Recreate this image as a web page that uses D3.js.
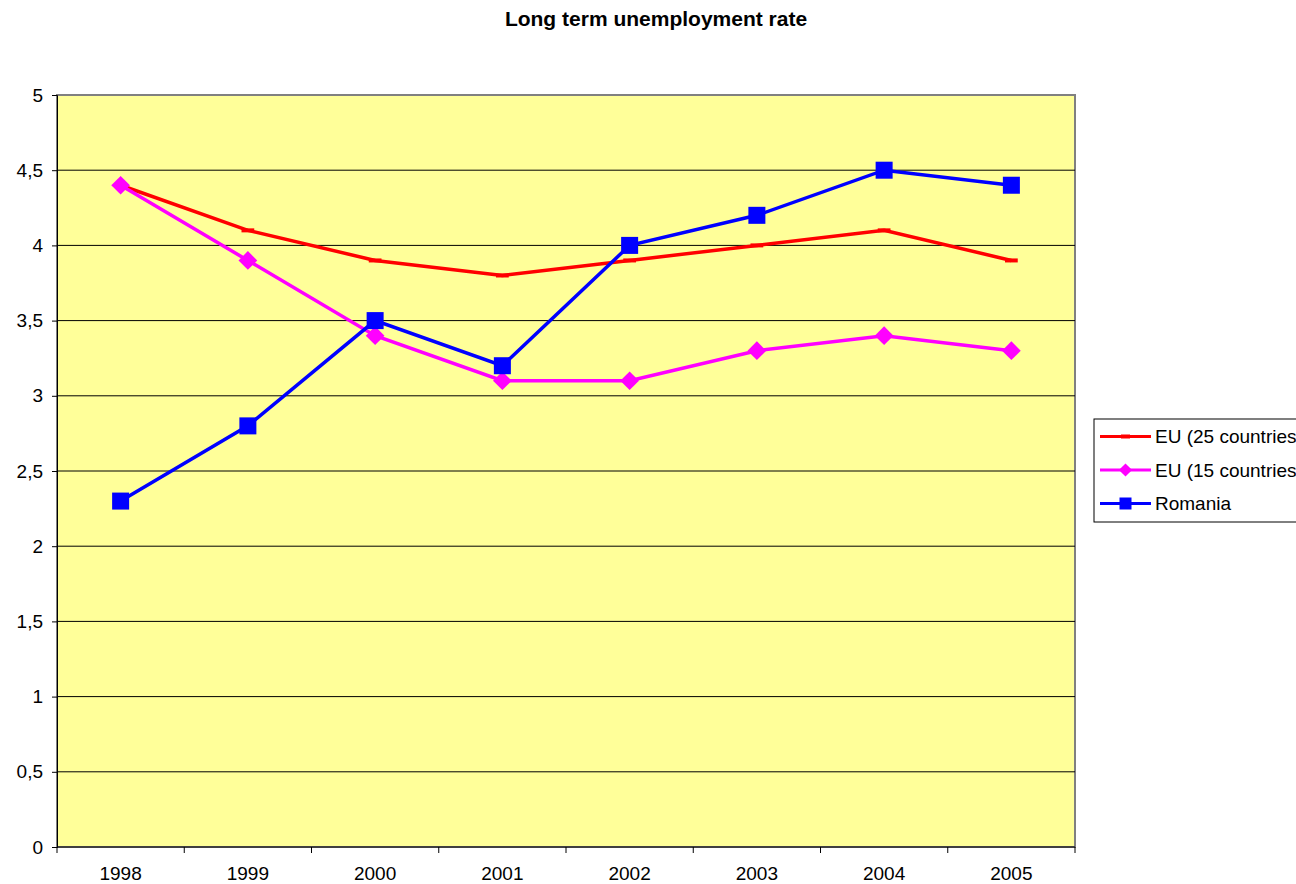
<!doctype html>
<html lang="en">
<head>
<meta charset="utf-8">
<script src="https://cdn.jsdelivr.net/npm/d3@7"></script>
<style>
body { margin: 0; background: #fff; }
svg text { font-family: Arial, "Liberation Sans", sans-serif; }
</style>
</head>
<body>
<svg width="1296" height="884"></svg>
<script>
// data
var years = ["1998", "1999", "2000", "2001", "2002", "2003", "2004", "2005"];
var eu25 = [4.4, 4.1, 3.9, 3.8, 3.9, 4.0, 4.1, 3.9];
var eu15 = [4.4, 3.9, 3.4, 3.1, 3.1, 3.3, 3.4, 3.3];
var romania = [2.3, 2.8, 3.5, 3.2, 4.0, 4.2, 4.5, 4.4];
var yTicks = [0, 0.5, 1, 1.5, 2, 2.5, 3, 3.5, 4, 4.5, 5];

var series = [
    { name: "EU (25 countries)", values: eu25, color: "#ff0000", marker: "dash" },
    { name: "EU (15 countries)", values: eu15, color: "#ff00ff", marker: "diamond" },
    { name: "Romania", values: romania, color: "#0000ff", marker: "square" }
];

var svg = d3.select("svg");
var plotL = 57, plotR = 1075, plotT = 95, plotB = 847;

var x = d3.scaleBand().domain(years).range([plotL, plotR]);
var y = d3.scaleLinear().domain([0, 5]).range([plotB, plotT]);
var fmt = function(d) { return String(d).replace(".", ","); };

svg.append("text")
    .attr("x", 656).attr("y", 26)
    .attr("text-anchor", "middle")
    .style("font-size", "21px").style("font-weight", "bold")
    .text("Long term unemployment rate");

// plot background
svg.append("rect")
    .attr("x", plotL).attr("y", plotT)
    .attr("width", plotR - plotL).attr("height", plotB - plotT)
    .attr("fill", "#ffff99")
    .attr("stroke", "#808080").attr("stroke-width", 2);

// gridlines
svg.append("g").selectAll("line")
    .data(yTicks.filter(function(d) { return d > 0 && d < 5; }))
    .join("line")
    .attr("x1", plotL).attr("x2", plotR)
    .attr("y1", function(d) { return y(d); })
    .attr("y2", function(d) { return y(d); })
    .attr("stroke", "#000").attr("stroke-width", 1);

// y axis
var yAxis = svg.append("g")
    .attr("transform", "translate(" + plotL + ",0)")
    .call(d3.axisLeft(y).tickValues(yTicks).tickFormat(fmt).tickSizeOuter(0).tickSize(5).tickPadding(9));
yAxis.select(".domain").attr("stroke", "#000");
yAxis.selectAll("line").attr("stroke", "#000");
yAxis.selectAll("text").style("font-size", "19px").attr("fill", "#000");

// x axis, ticks between categories
var xAxis = svg.append("g")
    .attr("transform", "translate(0," + plotB + ")");
xAxis.append("line")
    .attr("x1", plotL).attr("x2", plotR)
    .attr("stroke", "#000");
xAxis.selectAll("line.tk")
    .data(d3.range(years.length + 1))
    .join("line").attr("class", "tk")
    .attr("x1", function(i) { return plotL + i * x.step(); })
    .attr("x2", function(i) { return plotL + i * x.step(); })
    .attr("y1", 0).attr("y2", 6)
    .attr("stroke", "#000");
xAxis.selectAll("text")
    .data(years)
    .join("text")
    .attr("x", function(d) { return x(d) + x.bandwidth() / 2; })
    .attr("y", 33)
    .attr("text-anchor", "middle")
    .style("font-size", "19px")
    .text(function(d) { return d; });

var line = d3.line()
    .x(function(d, i) { return x(years[i]) + x.bandwidth() / 2; })
    .y(function(d) { return y(d); });

function drawMarker(g, type, color, cx, cy, r) {
    if (type === "square") {
        g.append("rect").attr("x", cx - r).attr("y", cy - r)
            .attr("width", 2 * r).attr("height", 2 * r).attr("fill", color);
    } else if (type === "diamond") {
        var h = r * 1.1;
        g.append("path")
            .attr("d", "M" + cx + "," + (cy - h) + "L" + (cx + h) + "," + cy +
                "L" + cx + "," + (cy + h) + "L" + (cx - h) + "," + cy + "Z")
            .attr("fill", color);
    } else {
        g.append("rect").attr("x", cx - r * 0.75).attr("y", cy - 2)
            .attr("width", r * 1.5).attr("height", 4).attr("fill", color);
    }
}

series.forEach(function(s) {
    var g = svg.append("g");
    g.append("path")
        .datum(s.values)
        .attr("d", line)
        .attr("fill", "none")
        .attr("stroke", s.color)
        .attr("stroke-width", 3.5);
    s.values.forEach(function(v, i) {
        drawMarker(g, s.marker, s.color, x(years[i]) + x.bandwidth() / 2, y(v), 8.5);
    });
});

// legend
var lg = svg.append("g").attr("transform", "translate(1094,419)");
lg.append("rect")
    .attr("width", 230).attr("height", 103)
    .attr("fill", "#fff").attr("stroke", "#000");
series.forEach(function(s, i) {
    var ly = 17.5 + i * 33.5;
    lg.append("line")
        .attr("x1", 6).attr("x2", 57)
        .attr("y1", ly).attr("y2", ly)
        .attr("stroke", s.color).attr("stroke-width", 3);
    drawMarker(lg, s.marker, s.color, 31.5, ly, 6);
    lg.append("text")
        .attr("x", 61).attr("y", ly + 6.5)
        .style("font-size", "19px")
        .text(s.name);
});
</script>
</body>
</html>
